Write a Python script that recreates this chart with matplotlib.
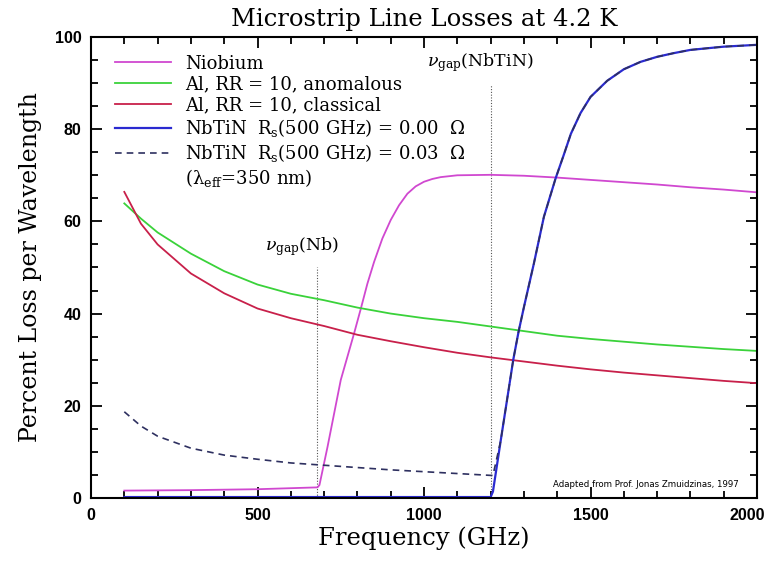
import matplotlib
matplotlib.use("Agg")
import matplotlib.pyplot as plt
from matplotlib.lines import Line2D
from matplotlib.ticker import MultipleLocator, FuncFormatter

plt.rcParams['font.family'] = ['DejaVu Serif']
plt.rcParams['mathtext.fontset'] = 'dejavuserif'

# ---- data ----
freq_al = [100, 150, 200, 300, 400, 500, 600, 700, 800, 900, 1000, 1100, 1200,
           1300, 1400, 1500, 1600, 1700, 1800, 1900, 2000]
al_anomalous = [63.9, 60.6, 57.6, 53.0, 49.2, 46.3, 44.3, 42.9, 41.3, 40.0, 39.0, 38.2, 37.2,
                36.2, 35.2, 34.5, 33.9, 33.3, 32.8, 32.3, 31.9]
al_classical = [66.4, 59.5, 55.0, 48.7, 44.4, 41.1, 39.0, 37.3, 35.4, 34.0, 32.7, 31.5, 30.5,
                29.6, 28.7, 27.9, 27.2, 26.6, 26.0, 25.4, 24.9]

freq_nb = [100, 300, 500, 680, 686, 710, 750, 790, 810, 830, 850, 875, 900, 925, 950, 975,
           1000, 1025, 1050, 1100, 1200, 1300, 1400, 1500, 1600, 1700, 1800, 1900, 2000]
niobium = [1.6, 1.7, 1.9, 2.3, 2.8, 11.0, 25.6, 35.7, 41.0, 46.5, 51.2, 56.3, 60.3, 63.5, 66.0,
           67.6, 68.6, 69.2, 69.6, 70.0, 70.1, 69.9, 69.5, 69.0, 68.5, 68.0, 67.4, 66.9, 66.3]

freq_nbtin = [100, 1200, 1207, 1230, 1250, 1268, 1284, 1300, 1330, 1360, 1395, 1420, 1441,
              1470, 1500, 1550, 1600, 1650, 1700, 1750, 1800, 1900, 2000]
nbtin_000 = [0.2, 0.2, 1.4, 12.3, 21.6, 30.0, 36.1, 41.4, 50.9, 61.0, 69.3, 74.5, 79.0,
             83.5, 87.0, 90.5, 93.0, 94.6, 95.7, 96.5, 97.2, 97.9, 98.3]

freq_nbtin_d = [100, 150, 200, 300, 400, 500, 600, 700, 800, 900, 1000, 1100, 1200,
                1207, 1230, 1250, 1268, 1284, 1300, 1330, 1360, 1395, 1420, 1441,
                1470, 1500, 1550, 1600, 1650, 1700, 1750, 1800, 1900, 2000]
nbtin_003 = [18.7, 15.6, 13.4, 10.8, 9.3, 8.4, 7.6, 7.1, 6.6, 6.1, 5.7, 5.3, 4.9,
             4.9, 12.3, 21.6, 30.0, 36.1, 41.4, 50.9, 61.0, 69.3, 74.5, 79.0,
             83.5, 87.0, 90.5, 93.0, 94.6, 95.7, 96.5, 97.2, 97.9, 98.3]

gap_freqs = [680, 1200]
gap_tops = [50, 89.5]
gap_labels = [r'$\nu_{\rm gap}$(Nb)', r'$\nu_{\rm gap}$(NbTiN)']

labels = ['Niobium', 'Al, RR = 10, anomalous', 'Al, RR = 10, classical',
          'NbTiN  R$_{\\rm s}$(500 GHz) = 0.00  Ω',
          'NbTiN  R$_{\\rm s}$(500 GHz) = 0.03  Ω',
          '(λ$_{\\rm eff}$=350 nm)']

x_max = 2000

# ---- figure ----
fig = plt.figure(figsize=(7.66, 5.63), dpi=100)
ax = fig.add_axes([0.1188, 0.1155, 0.8695, 0.8188])

c_nb = '#d048d0'
c_green = '#3ad23a'
c_red = '#c8204a'
c_blue = '#2a2ad0'
c_dash = '#2e3060'

for f, top in zip(gap_freqs, gap_tops):
    ax.plot([f, f], [0, top], color='#555555', lw=0.8, ls=(0, (1, 1.5)))

l1, = ax.plot(freq_nb, niobium, color=c_nb, lw=1.3)
l2, = ax.plot(freq_al, al_anomalous, color=c_green, lw=1.3)
l3, = ax.plot(freq_al, al_classical, color=c_red, lw=1.3)
l4, = ax.plot(freq_nbtin, nbtin_000, color=c_blue, lw=1.6)
l5, = ax.plot(freq_nbtin_d, nbtin_003, color=c_dash, lw=1.2, ls=(0, (4, 3)))
l6 = Line2D([], [], ls='none')

ax.text(635, 52, gap_labels[0], ha='center', va='bottom', fontsize=12.5)
ax.text(1170, 92, gap_labels[1], ha='center', va='bottom', fontsize=12.5)

ax.text(1945, 3.0, 'Adapted from Prof. Jonas Zmuidzinas, 1997', ha='right', va='center',
        fontsize=6.2, family='DejaVu Sans')

leg = ax.legend([l1, l2, l3, l4, l5, l6], labels, loc='upper left',
                bbox_to_anchor=(0.036, 0.962), borderaxespad=0, borderpad=0,
                frameon=False, fontsize=13, handlelength=3.1, handletextpad=0.8,
                labelspacing=0.16)

ax.set_xlim(0, x_max)
ax.set_ylim(0, 100)
ax.xaxis.set_major_locator(MultipleLocator(500))
ax.xaxis.set_minor_locator(MultipleLocator(100))
ax.yaxis.set_major_locator(MultipleLocator(20))
ax.yaxis.set_minor_locator(MultipleLocator(5))
ax.xaxis.set_major_formatter(FuncFormatter(lambda v, p: '' if v >= x_max else f'{v:.0f}'))
ax.tick_params(which='both', direction='in', top=True, right=True, width=1.3)
ax.tick_params(which='major', length=8)
ax.tick_params(which='minor', length=5)
for s in ax.spines.values():
    s.set_linewidth(1.5)
ax.tick_params(axis='x', pad=7)
ax.tick_params(axis='y', pad=7)

tick_font = dict(family='Liberation Sans', weight='bold', size=11.5)
ax.annotate(f'{x_max}', xy=(x_max, 0), xycoords=('data', 'axes fraction'),
            xytext=(-7, -7), textcoords='offset points', ha='center', va='top',
            **tick_font)

ax.set_xlabel('Frequency (GHz)', fontsize=17.5, labelpad=3)
ax.set_ylabel('Percent Loss per Wavelength', fontsize=17, labelpad=9)
ax.set_title('Microstrip Line Losses at 4.2 K', fontsize=17.5, pad=8)

for lab in ax.get_xticklabels() + ax.get_yticklabels():
    lab.set_fontfamily('Liberation Sans')
    lab.set_fontweight('bold')
    lab.set_fontsize(11.5)

fig.savefig('out.png', dpi=100)
